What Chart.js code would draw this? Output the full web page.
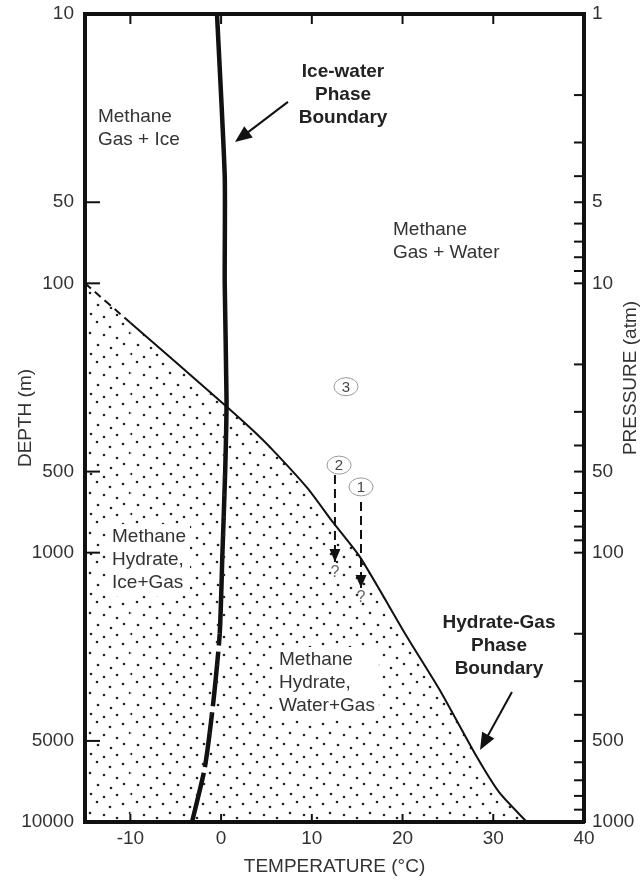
<!DOCTYPE html>
<html>
<head>
<meta charset="utf-8">
<script src="https://cdn.jsdelivr.net/npm/chart.js@4.4.0/dist/chart.umd.min.js"></script>
<style>
  html, body { margin: 0; padding: 0; background: #fff; }
  canvas { display: block; }
</style>
</head>
<body>
<canvas id="phaseChart" width="644" height="886"></canvas>
<script>
// hydrate-gas boundary (temperature ºC, depth m)
const hydrateT = [-15, -10.0, 0.4, 3.2, 5.7, 9.5, 12.3, 15.3, 20.5, 24.1, 28.2, 30.7, 33.7];
const hydrateDepth = [100, 140, 283, 344, 416, 575, 769, 1037, 2056, 3236, 5741, 7800, 10000];

// ice-water boundary
const iceT = [-0.45, 0.4, 0.4, 0.6, 0.45, 0.15, -0.15, -0.9, -1.8, -3.2];
const iceDepth = [10, 40, 100, 270, 500, 1000, 2000, 3700, 6300, 10000];

// dashed paths 1 and 2
const pathNames = ['1', '2'];
const pathT = [15.42, 12.55];
const pathStart = [649, 515];
const pathEnd = [1352, 1083];
const pathQuery = [1472, 1190];

// circled points
const circleNames = ['1', '2', '3'];
const circleT = [15.42, 13.0, 13.77];
const circleDepth = [570, 473, 242];

// axis ticks
const tempTicks = [-10, 0, 10, 20, 30, 40];
const depthTicks = [10, 50, 100, 500, 1000, 5000, 10000];
const pressureTicks = [1, 5, 10, 50, 100, 500, 1000];
const pressureMinor = [2, 3, 4, 6, 7, 8, 9, 20, 30, 40, 60, 70, 80, 90, 200, 300, 400, 600, 700, 800, 900];

// region labels
const regionText = [['Methane', 'Gas + Ice'], ['Methane', 'Gas + Water'], ['Methane', 'Hydrate,', 'Ice+Gas'], ['Methane', 'Hydrate,', 'Water+Gas']];
const regionT = [-13.57, 18.95, -12.02, 6.38];
const regionDepth = [24.1, 63.4, 875, 2503];

// boundary labels and their arrows
const boundaryText = [['Ice-water', 'Phase', 'Boundary'], ['Hydrate-Gas', 'Phase', 'Boundary']];
const boundaryT = [13.44, 30.63];
const boundaryDepth = [16.4, 1825];
const arrowFromT = [7.37, 32.06];
const arrowFromDepth = [21.2, 3289];
const arrowToT = [1.53, 28.54];
const arrowToDepth = [29.9, 5404];

const stippleDots = [[3, 4], [17, 2], [30, 7], [10, 13], [24, 15], [37, 18], [4, 24], [18, 25], [31, 28], [11, 34], [24, 37], [37, 35]];

const FONT = "'Liberation Sans', Arial, Helvetica, sans-serif";
Chart.defaults.font.family = FONT;
Chart.defaults.font.size = 19;
Chart.defaults.color = '#333';

const canvas = document.getElementById('phaseChart');

const makeStipple = () => {
    const tile = document.createElement('canvas');
    tile.width = 40;
    tile.height = 40;
    const g = tile.getContext('2d');
    g.fillStyle = '#222';
    stippleDots.forEach(([dx, dy]) => {
        g.beginPath();
        g.arc(dx, dy, 1.3, 0, Math.PI * 2);
        g.fill();
    });
    return canvas.getContext('2d').createPattern(tile, 'repeat');
};

const arrowHead = (ctx, x0, y0, x1, y1, len, half) => {
    const ang = Math.atan2(y1 - y0, x1 - x0);
    ctx.beginPath();
    ctx.moveTo(x1, y1);
    ctx.lineTo(x1 - len * Math.cos(ang) + half * Math.sin(ang), y1 - len * Math.sin(ang) - half * Math.cos(ang));
    ctx.lineTo(x1 - len * Math.cos(ang) - half * Math.sin(ang), y1 - len * Math.sin(ang) + half * Math.cos(ang));
    ctx.closePath();
    ctx.fill();
};

const annotations = {
    id: 'annotations',
    afterDatasetsDraw(chart) {
        const {ctx, scales: {x, y}} = chart;
        ctx.save();
        ctx.textBaseline = 'middle';

        // region labels, white behind them
        ctx.font = `19px ${FONT}`;
        regionText.forEach((lines, i) => {
            const left = x.getPixelForValue(regionT[i]);
            const top = y.getPixelForValue(regionDepth[i]);
            const w = Math.max(...lines.map(l => ctx.measureText(l).width));
            ctx.fillStyle = '#fff';
            ctx.fillRect(left - 4, top - 13, w + 8, 23 * lines.length + 3);
            ctx.fillStyle = '#333';
            ctx.textAlign = 'left';
            lines.forEach((l, k) => ctx.fillText(l, left, top + k * 23));
        });

        // boundary labels + arrows
        ctx.font = `bold 19px ${FONT}`;
        ctx.textAlign = 'center';
        boundaryText.forEach((lines, i) => {
            const cx = x.getPixelForValue(boundaryT[i]);
            const cy = y.getPixelForValue(boundaryDepth[i]);
            ctx.fillStyle = '#222';
            lines.forEach((l, k) => ctx.fillText(l, cx, cy + k * 23));
            const x0 = x.getPixelForValue(arrowFromT[i]);
            const y0 = y.getPixelForValue(arrowFromDepth[i]);
            const x1 = x.getPixelForValue(arrowToT[i]);
            const y1 = y.getPixelForValue(arrowToDepth[i]);
            ctx.strokeStyle = '#111';
            ctx.lineWidth = 2;
            ctx.beginPath();
            ctx.moveTo(x0, y0);
            ctx.lineTo(x1 - (x1 - x0) * 0.15, y1 - (y1 - y0) * 0.15);
            ctx.stroke();
            ctx.fillStyle = '#111';
            arrowHead(ctx, x0, y0, x1, y1, 17, 7);
        });

        // heads of dashed paths and question marks
        ctx.font = `16px ${FONT}`;
        pathNames.forEach((n, i) => {
            const px = x.getPixelForValue(pathT[i]);
            const y0 = y.getPixelForValue(pathStart[i]);
            const y1 = y.getPixelForValue(pathEnd[i]);
            ctx.fillStyle = '#111';
            arrowHead(ctx, px, y0, px, y1, 13, 5.5);
            ctx.fillStyle = '#666';
            ctx.fillText('?', px, y.getPixelForValue(pathQuery[i]));
        });

        // circled numbers
        ctx.font = `15px ${FONT}`;
        circleNames.forEach((n, i) => {
            const cx = x.getPixelForValue(circleT[i]);
            const cy = y.getPixelForValue(circleDepth[i]);
            ctx.beginPath();
            ctx.ellipse(cx, cy, 12, 9, 0, 0, Math.PI * 2);
            ctx.fillStyle = '#fff';
            ctx.fill();
            ctx.strokeStyle = '#999';
            ctx.lineWidth = 1;
            ctx.stroke();
            ctx.fillStyle = '#444';
            ctx.fillText(n, cx, cy + 1);
        });
        ctx.restore();
    },
    afterDraw(chart) {
        const {ctx, chartArea: a, scales} = chart;
        ctx.save();
        ctx.strokeStyle = '#111';
        ctx.lineWidth = 2;
        const seg = (x0, y0, x1, y1) => {
            ctx.beginPath();
            ctx.moveTo(x0, y0);
            ctx.lineTo(x1, y1);
            ctx.stroke();
        };
        // inward tick marks
        depthTicks.forEach(v => {
            const yy = scales.y.getPixelForValue(v);
            seg(a.left, yy, a.left + 15, yy);
        });
        pressureTicks.concat(pressureMinor).forEach(v => {
            const yy = scales.y2.getPixelForValue(v);
            seg(a.right - 10, yy, a.right, yy);
        });
        tempTicks.forEach(v => {
            if (v >= 40) return;
            const xx = scales.x.getPixelForValue(v);
            seg(xx, a.bottom, xx, a.bottom - 8);
            seg(xx, a.top, xx, a.top + 10);
        });

        // right title reads bottom to top
        ctx.translate(chart.width - 13, (a.top + a.bottom) / 2 - 40);
        ctx.rotate(-Math.PI / 2);
        ctx.font = `19px ${FONT}`;
        ctx.fillStyle = '#333';
        ctx.textAlign = 'center';
        ctx.textBaseline = 'middle';
        ctx.fillText('PRESSURE (atm)', 0, 0);
        ctx.restore();
    }
};

const border = { display: true, color: '#111', width: 4, z: 1 };
// hidden tick marks only used as label spacing
const gridSpace = len => ({ display: false, drawTicks: true, tickLength: len });

const pathSets = pathNames.map((n, i) => ({
    label: 'path ' + n,
    data: [{x: pathT[i], y: pathStart[i]}, {x: pathT[i], y: pathEnd[i]}],
    borderColor: '#111',
    borderWidth: 2,
    borderDash: [9, 5],
    pointRadius: 0,
    fill: false,
}));

new Chart(canvas, {
    type: 'line',
    data: {
        datasets: [
            {
                label: 'Hydrate-Gas Phase Boundary',
                data: hydrateT.map((t, i) => ({x: t, y: hydrateDepth[i]})),
                borderColor: '#111',
                borderWidth: 2,
                tension: 0.2,
                pointRadius: 0,
                fill: {value: 10000},
                backgroundColor: makeStipple(),
                segment: {
                    borderDash: c => c.p0DataIndex === 0 ? [8, 5] : undefined,
                },
            },
            {
                label: 'Ice-water Phase Boundary',
                data: iceT.map((t, i) => ({x: t, y: iceDepth[i]})),
                borderColor: '#111',
                borderWidth: 4.5,
                tension: 0.2,
                pointRadius: 0,
                fill: false,
                segment: {
                    borderDash: c => c.p0.parsed.y >= 2000 ? [55, 6] : undefined,
                    borderDashOffset: c => c.p0.parsed.y >= 2000 ? 43 : undefined,
                },
            },
            ...pathSets,
        ],
    },
    options: {
        responsive: false,
        animation: false,
        layout: { padding: 0 },
        plugins: { legend: { display: false }, tooltip: { enabled: false } },
        scales: {
            x: {
                type: 'linear', position: 'bottom', min: -15, max: 40,
                afterBuildTicks: s => { s.ticks = tempTicks.map(v => ({value: v})); },
                afterFit: s => { s.height = 64; },
                grid: gridSpace(5), border,
                ticks: { padding: 0, autoSkip: false, maxRotation: 0, callback: v => String(v) },
                title: { display: true, text: 'TEMPERATURE (°C)', padding: {top: 0, bottom: 8} },
            },
            x2: {
                type: 'linear', position: 'top', min: -15, max: 40,
                afterFit: s => { s.height = 14; },
                grid: { display: false, drawTicks: false }, border, ticks: { display: false },
            },
            y: {
                type: 'logarithmic', position: 'left', reverse: true, min: 10, max: 10000,
                afterBuildTicks: s => { s.ticks = depthTicks.map(v => ({value: v})); },
                afterFit: s => { s.width = 85; },
                grid: gridSpace(11), border,
                ticks: { padding: 0, autoSkip: false, callback: v => String(v) },
                title: { display: true, text: 'DEPTH (m)', padding: {top: 14, bottom: 0} },
            },
            y2: {
                type: 'logarithmic', position: 'right', reverse: true, min: 1, max: 1000,
                afterBuildTicks: s => { s.ticks = pressureTicks.map(v => ({value: v})); },
                afterFit: s => { s.width = 60; },
                grid: gridSpace(8), border,
                ticks: { padding: 0, autoSkip: false, callback: v => String(v) },
            },
        },
    },
    plugins: [annotations],
});
</script>
</body>
</html>
